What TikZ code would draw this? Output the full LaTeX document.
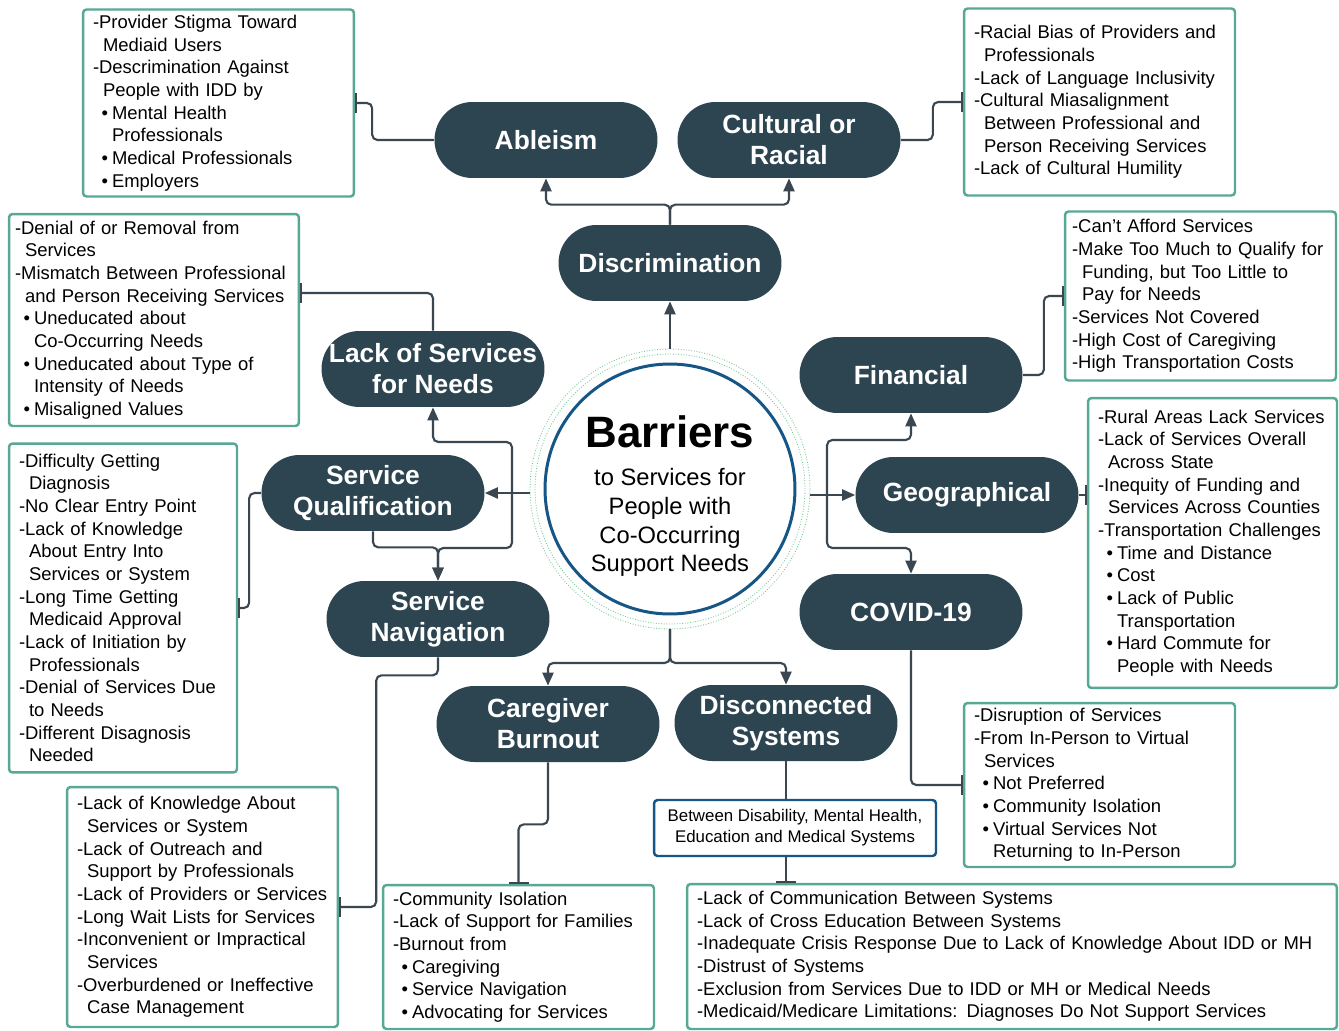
\documentclass[tikz,border=0pt]{standalone}
\usepackage{fontspec}
\setmainfont{Liberation Sans}
\usetikzlibrary{arrows.meta,calc}

\definecolor{slate}{RGB}{45,69,81}
\definecolor{wire}{RGB}{58,70,80}
\definecolor{boxteal}{RGB}{88,168,150}
\definecolor{hubblue}{RGB}{22,86,134}
\definecolor{ringgreen}{RGB}{120,200,150}

\newcommand{\ind}{\hspace*{0.2cm}}
\newcommand{\bul}{\hspace*{0.17cm}\makebox[0.21cm][l]{\textbullet}}
\newcommand{\bind}{\hspace*{0.38cm}}

\begin{document}
\begin{tikzpicture}[x=0.02cm, y=-0.02cm,
    pill/.style={fill=slate, text=white, rounded corners=0.76cm, minimum width=4.46cm, minimum height=1.52cm, inner sep=0pt, align=center, font=\fontsize{15}{17.6}\selectfont\bfseries},
    infobox/.style={draw=boxteal, line width=1.4pt, rounded corners=2pt, align=left, inner xsep=0.2cm, inner ysep=0pt, font=\fontsize{10.5}{12.9}\selectfont},
    arrow/.style={draw=wire, line width=1.2pt, rounded corners=3pt, -{Triangle[length=2.6mm,width=2.2mm]}},
    tee/.style={draw=wire, line width=1.2pt, rounded corners=3pt, -{Bar[width=4mm]}}]
    \fill[white] (0,0) rectangle (1339,1031);

    % Hub
    \node[circle, draw=hubblue, line width=1.7pt, minimum size=5cm, inner sep=0pt, outer sep=0.3cm, align=center, font=\fontsize{13.5}{16.3}\selectfont] (barrier) at (670,489)
        {{\fontsize{25}{25}\selectfont\bfseries\rule{0pt}{26pt}Barriers}\\[0.2cm] to Services for\\People with\\Co-Occurring\\Support Needs};
    \draw[ringgreen, densely dotted, line width=0.5pt] (barrier.center) circle (2.7cm);
    \draw[ringgreen, densely dotted, line width=0.5pt] (barrier.center) circle (2.8cm);

    % Pills
    \node[pill] (disc) at (670,263) {Discrimination};
    \node[pill] (ableism) at (546,140) {Ableism};
    \node[pill] (cultural) at (789,140) {Cultural or\\Racial};
    \node[pill] (lack) at (433,369) {Lack of Services\\for Needs};
    \node[pill] (squal) at (373,493) {Service\\Qualification};
    \node[pill] (snav) at (438,619) {Service\\Navigation};
    \node[pill] (care) at (548,724) {Caregiver\\Burnout};
    \node[pill] (dsys) at (786,723) {Disconnected\\Systems};
    \node[pill] (fin) at (911,375) {Financial};
    \node[pill] (geo) at (967,495) {Geographical};
    \node[pill] (covid) at (911,612) {COVID-19};

    % Text boxes
    \node[infobox, text width=5.02cm, minimum height=3.74cm] (ablbox) at (218.5,103)
        {-Provider Stigma Toward\\\ind Mediaid Users\\-Descrimination Against\\\ind People with IDD by\\\bul Mental Health\\\bind Professionals\\\bul Medical Professionals\\\bul Employers};
    \node[infobox, text width=5.02cm, minimum height=3.74cm] (culbox) at (1099.5,102)
        {-Racial Bias of Providers and\\\ind Professionals\\-Lack of Language Inclusivity\\-Cultural Miasalignment\\\ind Between Professional and\\\ind Person Receiving Services\\-Lack of Cultural Humility};
    \node[infobox, inner xsep=0.12cm, text width=5.56cm, minimum height=4.24cm] (lackbox) at (154,320)
        {-Denial of or Removal from\\\ind Services\\-Mismatch Between Professional\\\ind and Person Receiving Services\\\bul Uneducated about\\\bind Co-Occurring Needs\\\bul Uneducated about Type of\\\bind Intensity of Needs\\\bul Misaligned Values};
    \node[infobox, text width=4.16cm, minimum height=6.58cm] (squalbox) at (123,608)
        {-Difficulty Getting\\\ind Diagnosis\\-No Clear Entry Point\\-Lack of Knowledge\\\ind About Entry Into\\\ind Services or System\\-Long Time Getting\\\ind Medicaid Approval\\-Lack of Initiation by\\\ind Professionals\\-Denial of Services Due\\\ind to Needs\\-Different Disagnosis\\\ind Needed};
    \node[infobox, text width=5.02cm, minimum height=4.8cm] (navbox) at (202.5,907)
        {-Lack of Knowledge About\\\ind Services or System\\-Lack of Outreach and\\\ind Support by Professionals\\-Lack of Providers or Services\\-Long Wait Lists for Services\\-Inconvenient or Impractical\\\ind Services\\-Overburdened or Ineffective\\\ind Case Management};
    \node[infobox, text width=5.02cm, minimum height=2.88cm] (carebox) at (518.5,957)
        {-Community Isolation\\-Lack of Support for Families\\-Burnout from\\\bul Caregiving\\\bul Service Navigation\\\bul Advocating for Services};
    \node[draw=hubblue, line width=1.4pt, rounded corners=2pt, minimum width=5.64cm, minimum height=1.12cm, inner sep=0pt, align=center, font=\fontsize{9.6}{11.9}\selectfont] (sysnote) at (795,828)
        {Between Disability, Mental Health,\\Education and Medical Systems};
    \node[infobox, text width=12.6cm, minimum height=2.9cm] (sysbox) at (1012,956.5)
        {-Lack of Communication Between Systems\\-Lack of Cross Education Between Systems\\-Inadequate Crisis Response Due to Lack of Knowledge About IDD or MH\\-Distrust of Systems\\-Exclusion from Services Due to IDD or MH or Medical Needs\\-Medicaid/Medicare Limitations: Diagnoses Do Not Support Services};
    \node[infobox, inner xsep=0.14cm, text width=5.14cm, minimum height=3.38cm] (finbox) at (1200.5,296)
        {-Can't Afford Services\\-Make Too Much to Qualify for\\\ind Funding, but Too Little to\\\ind Pay for Needs\\-Services Not Covered\\-High Cost of Caregiving\\-High Transportation Costs};
    \node[infobox, text width=4.58cm, minimum height=5.8cm] (geobox) at (1212.5,543)
        {-Rural Areas Lack Services\\-Lack of Services Overall\\\ind Across State\\-Inequity of Funding and\\\ind Services Across Counties\\-Transportation Challenges\\\bul Time and Distance\\\bul Cost\\\bul Lack of Public\\\bind Transportation\\\bul Hard Commute for\\\bind People with Needs};
    \node[infobox, text width=5.02cm, minimum height=3.28cm] (covbox) at (1099.5,785)
        {-Disruption of Services\\-From In-Person to Virtual\\\ind Services\\\bul Not Preferred\\\bul Community Isolation\\\bul Virtual Services Not\\\bind Returning to In-Person};

    % Connectors
    \coordinate (lsplit) at (512,493);
    \coordinate (rsplit) at (827,495);
    \draw[arrow] (barrier.north) -- (disc.south);
    \draw[arrow] (disc.north) -- ++(0,-20) -| (ableism.south);
    \draw[arrow] (disc.north) -- ++(0,-20) -| (cultural.south);
    \draw[tee] (ableism.west) -- ++(-62,0) |- (ablbox.east);
    \draw[tee] (cultural.east) -- ++(32,0) |- (culbox.west);

    \draw[arrow] (barrier.west |- squal.east) -- (squal.east);
    \draw[arrow] (lsplit) -- ++(0,-51) -| (lack.south);
    \draw[arrow] (lsplit) -- ++(0,55) -| (snav.north);
    \draw[arrow] (squal.south) -- ++(0,16) -| (snav.north);
    \draw[tee] (lack.north) |- ($(lackbox.east)+(0,-27)$);
    \draw[tee] (squal.west) -- ++(-12,0) |- (squalbox.east);
    \draw[tee] (snav.south) -- ++(0,18) -| ($(navbox.east)+(37,0)$) -- (navbox.east);

    \draw[arrow] (barrier.south) -- ++(0,34) -| (care.north);
    \draw[arrow] (barrier.south) -- ++(0,34) -| (dsys.north);
    \draw[tee] (care.south) -- ++(0,62) -| (carebox.north);
    \draw[wire, line width=1.2pt] (dsys.south) -- (dsys.south |- sysnote.north);
    \draw[tee] (dsys.south |- sysnote.south) -- (dsys.south |- sysbox.north);

    \draw[arrow] (barrier.east |- geo.west) -- (geo.west);
    \draw[arrow] (rsplit) -- ++(0,-55) -| (fin.south);
    \draw[arrow] (rsplit) -- ++(0,53) -| (covid.north);
    \draw[tee] (fin.east) -- ++(21,0) |- (finbox.west);
    \draw[tee] (geo.east) -- (geo.east -| geobox.west);
    \draw[tee] (covid.south) |- (covbox.west);

\end{tikzpicture}
\end{document}
